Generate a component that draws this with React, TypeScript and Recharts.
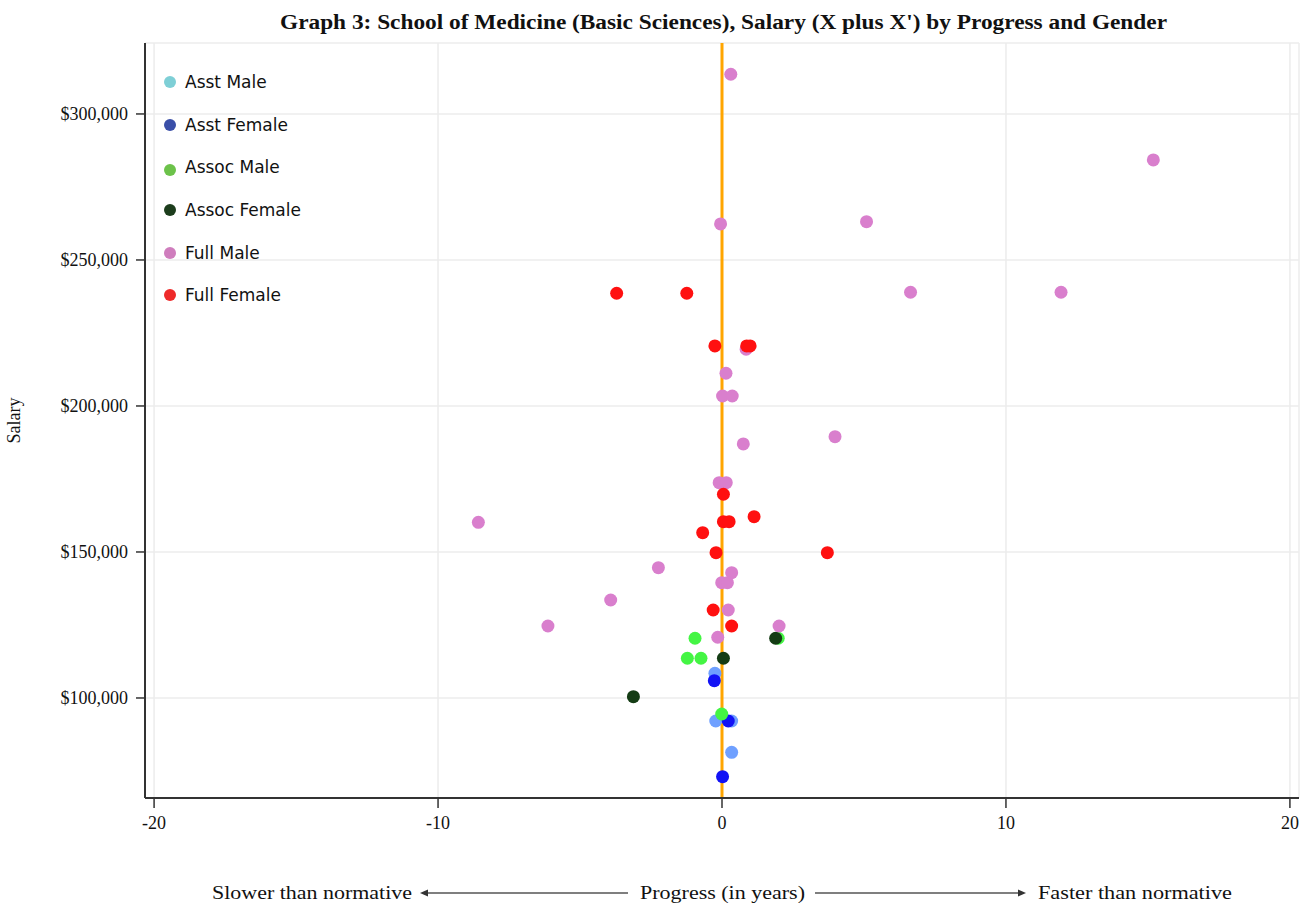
import React from 'react';
import { ScatterChart, Scatter, XAxis, YAxis, CartesianGrid, ReferenceLine, Legend } from 'recharts';

type Pt = { progress: number; salary: number };

const asstMale: Pt[] = [
  { progress: -0.25, salary: 108450 },
  { progress: -0.22, salary: 92120 },
  { progress: 0.34, salary: 92120 },
  { progress: 0.34, salary: 81400 },
];

const asstFemale: Pt[] = [
  { progress: -0.27, salary: 105940 },
  { progress: 0.22, salary: 92120 },
  { progress: 0.02, salary: 73050 },
];

const assocMale: Pt[] = [
  { progress: -0.95, salary: 120450 },
  { progress: 1.98, salary: 120450 },
  { progress: -1.22, salary: 113600 },
  { progress: -0.74, salary: 113600 },
  { progress: -0.01, salary: 94520 },
];

const assocFemale: Pt[] = [
  { progress: 1.89, salary: 120450 },
  { progress: 0.05, salary: 113600 },
  { progress: -3.12, salary: 100450 },
];

const fullMale: Pt[] = [
  { progress: 0.31, salary: 313600 },
  { progress: 15.19, salary: 284250 },
  { progress: 5.09, salary: 263120 },
  { progress: -0.05, salary: 262330 },
  { progress: 6.64, salary: 238940 },
  { progress: 11.94, salary: 238940 },
  { progress: 0.85, salary: 219420 },
  { progress: 0.14, salary: 211200 },
  { progress: 0.02, salary: 203420 },
  { progress: 0.36, salary: 203420 },
  { progress: 0.75, salary: 186990 },
  { progress: 3.98, salary: 189500 },
  { progress: -0.1, salary: 173730 },
  { progress: 0.15, salary: 173730 },
  { progress: -8.58, salary: 160170 },
  { progress: -2.24, salary: 144620 },
  { progress: 0.34, salary: 142900 },
  { progress: -0.01, salary: 139490 },
  { progress: 0.19, salary: 139490 },
  { progress: -3.92, salary: 133560 },
  { progress: 0.22, salary: 130140 },
  { progress: -6.13, salary: 124660 },
  { progress: 2.01, salary: 124660 },
  { progress: -0.15, salary: 120790 },
];

const fullFemale: Pt[] = [
  { progress: -3.71, salary: 238600 },
  { progress: -1.24, salary: 238600 },
  { progress: -0.25, salary: 220550 },
  { progress: 0.87, salary: 220550 },
  { progress: 0.99, salary: 220550 },
  { progress: 0.05, salary: 169760 },
  { progress: 0.05, salary: 160380 },
  { progress: 0.25, salary: 160380 },
  { progress: 1.13, salary: 162090 },
  { progress: -0.68, salary: 156610 },
  { progress: -0.21, salary: 149760 },
  { progress: 3.71, salary: 149760 },
  { progress: -0.31, salary: 130140 },
  { progress: 0.34, salary: 124660 },
];

const seriesNames = ['Asst Male', 'Asst Female', 'Assoc Male', 'Assoc Female', 'Full Male', 'Full Female'];
const seriesData = [asstMale, asstFemale, assocMale, assocFemale, fullMale, fullFemale];
const pointColors = ['#6fa0ff', '#1212f5', '#44f544', '#143c14', '#d97fcd', '#ff1010'];
const legendColors = ['#7ecfd6', '#3a4fa8', '#6cc24a', '#1c3d1c', '#cf7dbd', '#ee2a2a'];

const xTicks = [-20, -10, 0, 10, 20];
const yTicks = [100000, 150000, 200000, 250000, 300000];
const xDomain: [number, number] = [-20.32, 20.32];
const yDomain: [number, number] = [65750, 324300];

const title = "Graph 3: School of Medicine (Basic Sciences), Salary (X plus X') by Progress and Gender";
const serif = '"Liberation Serif", "DejaVu Serif", serif';

const fmtSalary = (v: number) => '$' + v.toLocaleString('en-US');

const LegendContent = () => (
  <div style={{ fontFamily: '"DejaVu Sans", sans-serif', fontSize: 17, color: '#111' }}>
    {seriesNames.map((n, i) => (
      <div key={n} style={{ height: 42.65, display: 'flex', alignItems: 'center' }}>
        <span
          style={{
            display: 'inline-block',
            width: 12,
            height: 12,
            borderRadius: 6,
            background: legendColors[i],
            marginRight: 9,
            marginTop: i === 2 ? 6 : 0,
          }}
        />
        <span>{n}</span>
      </div>
    ))}
  </div>
);

export default function App() {
  return (
    <div style={{ position: 'absolute', left: 0, top: 0, width: 1300, height: 905, background: '#fff' }}>
      <ScatterChart width={1300} height={905} margin={{ top: 43, right: 1, bottom: 0, left: 0 }}>
        <CartesianGrid stroke="#ececec" strokeWidth={1.5} />
        <XAxis
          type="number"
          dataKey="progress"
          domain={xDomain}
          ticks={xTicks}
          allowDataOverflow
          height={107}
          axisLine={{ stroke: '#333', strokeWidth: 2 }}
          tickLine={{ stroke: '#333', strokeWidth: 1.5 }}
          tickSize={10}
          tickMargin={8}
          tick={{ fill: '#111', fontSize: 18, fontFamily: serif }}
        />
        <XAxis
          xAxisId="top"
          orientation="top"
          type="number"
          domain={xDomain}
          height={0}
          tick={false}
          tickLine={false}
          axisLine={{ stroke: '#333', strokeWidth: 2.5 }}
        />
        <YAxis
          type="number"
          dataKey="salary"
          domain={yDomain}
          ticks={yTicks}
          allowDataOverflow
          width={145}
          tickFormatter={fmtSalary}
          axisLine={{ stroke: '#333', strokeWidth: 2 }}
          tickLine={{ stroke: '#333', strokeWidth: 1.5 }}
          tickSize={9}
          tickMargin={8}
          tick={{ fill: '#111', fontSize: 18, fontFamily: serif }}
          label={{
            value: 'Salary',
            angle: -90,
            position: 'insideLeft',
            offset: 14,
            style: { textAnchor: 'middle', fontFamily: serif, fontSize: 18, fill: '#111' },
          }}
        />
        <YAxis
          yAxisId="right"
          orientation="right"
          type="number"
          domain={yDomain}
          width={0}
          tick={false}
          tickLine={false}
          axisLine={{ stroke: '#333', strokeWidth: 2 }}
        />
        {seriesData.map((d, i) => (
          <Scatter
            key={seriesNames[i]}
            name={seriesNames[i]}
            data={d}
            isAnimationActive={false}
            fill={pointColors[i]}
            shape={(p: any) => <circle cx={p.cx} cy={p.cy} r={6.5} fill={pointColors[i]} />}
          />
        ))}
        <ReferenceLine x={0} stroke="#ffa500" strokeWidth={3} />
        <Legend
          layout="vertical"
          align="center"
          verticalAlign="middle"
          wrapperStyle={{ left: 164, top: 60.7, width: 200, height: 260 }}
          content={() => <LegendContent />}
        />
      </ScatterChart>
      <svg
        width={1300}
        height={905}
        style={{ position: 'absolute', left: 0, top: 0, pointerEvents: 'none' }}
      >
        <text
          x={723.5}
          y={29}
          textAnchor="middle"
          fontFamily={serif}
          fontWeight="bold"
          fontSize={20}
          fill="#111"
          textLength={887}
          lengthAdjust="spacingAndGlyphs"
        >
          {title}
        </text>
        <g fontFamily={serif} fontSize={18} fill="#111">
          <text x={212} y={899} textLength={200} lengthAdjust="spacingAndGlyphs">
            Slower than normative
          </text>
          <text x={640} y={899} textLength={165} lengthAdjust="spacingAndGlyphs">
            Progress (in years)
          </text>
          <text x={1038} y={899} textLength={194} lengthAdjust="spacingAndGlyphs">
            Faster than normative
          </text>
        </g>
        <g stroke="#555" strokeWidth={1.5}>
          <line x1={426} y1={893} x2={628} y2={893} />
          <line x1={815} y1={893} x2={1020} y2={893} />
        </g>
        <polygon points="420,893 428,889.5 428,896.5" fill="#333" />
        <polygon points="1026,893 1018,889.5 1018,896.5" fill="#333" />
      </svg>
    </div>
  );
}
